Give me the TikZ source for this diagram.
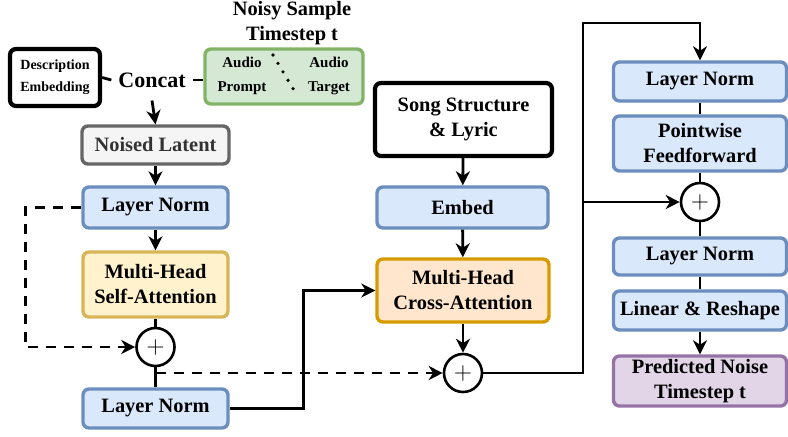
\documentclass[tikz,border=0pt]{standalone}
\usepackage{fontspec}
\setmainfont{Liberation Serif}
\usepackage{xcolor}
\usetikzlibrary{arrows.meta, positioning, calc}

\definecolor{blueF}{HTML}{DAE8FC}
\definecolor{blueD}{HTML}{6C8EBF}
\definecolor{greenF}{HTML}{D5E8D4}
\definecolor{greenD}{HTML}{82B366}
\definecolor{grayF}{HTML}{F5F5F5}
\definecolor{grayD}{HTML}{666666}
\definecolor{grayT}{HTML}{333333}
\definecolor{yelF}{HTML}{FFF2CC}
\definecolor{yelD}{HTML}{D6B656}
\definecolor{orgF}{HTML}{FFE6CC}
\definecolor{orgD}{HTML}{D79B00}
\definecolor{purF}{HTML}{E1D5E7}
\definecolor{purD}{HTML}{9673A6}

\tikzset{
  txt/.style={font=\fontsize{10.2}{12.5}\selectfont\bfseries, align=center},
  blk/.style={txt, draw, line width=1.7pt, rounded corners=3pt, inner sep=0pt},
  norm/.style={blk, draw=blueD, fill=blueF},
  plus/.style={circle, draw, line width=1.3pt, fill=white, inner sep=0pt,
    minimum size=19pt, font=\fontsize{13}{13}\selectfont},
  link/.style={line width=1.4pt},
  arr/.style={link, -{Stealth[length=7pt,width=7pt,inset=2.2pt]}},
  skip/.style={arr, dash pattern=on 5pt off 4pt}
}

\begin{document}
\begin{tikzpicture}[x=0.5pt,y=-0.5pt]

\useasboundingbox (0,0) rectangle (788,436);

% ------------------------
% Inputs: description + noisy sample
% ------------------------
\node[txt] (title) at (292,23) {Noisy Sample\\Timestep t};

\node[blk, draw=black, line width=2.1pt, minimum width=45pt, minimum height=28.5pt,
  font=\fontsize{7}{11}\selectfont\bfseries] (desc) at (55,77.5)
  {Description\\Embedding};

\node[txt, font=\fontsize{11}{12}\selectfont\bfseries] (concat) at (152,80) {Concat};

\node[blk, draw=greenD, fill=greenF, minimum width=79pt, minimum height=27.5pt]
  (noisy) at (284,76.5) {};
\node[txt, font=\fontsize{7.5}{12}\selectfont\bfseries] (prompt) at (242,76) {Audio\\Prompt};
\node[txt, font=\fontsize{7.5}{12}\selectfont\bfseries] (target) at (329,76) {Audio\\Target};

% divider between prompt and target
\draw[line width=1.8pt, line cap=round, dash pattern=on 0pt off 4.9pt]
  (273,55) -- (298,97);

\draw[link] (desc.east) -- (concat.west);
\draw[link] (concat.east) -- (concat.east -| noisy.west);

% ------------------------
% Left column: self-attention block
% ------------------------
\node[blk, draw=grayD, fill=grayF, text=grayT, minimum width=73.5pt, minimum height=19pt]
  (noised) at (155.5,145) {Noised Latent};

\node[norm, minimum width=72.5pt, minimum height=20.5pt] (ln1) at (155.5,207.5) {Layer Norm};

\node[blk, draw=yelD, fill=yelF, minimum width=72.5pt, minimum height=32.5pt]
  (mhsa) at (155.5,284.5) {Multi-Head\\Self-Attention};

\node[plus] (add1) at (155.5,347) {$+$};

\node[norm, minimum width=72.5pt, minimum height=19.5pt] (ln2) at (155.5,408.5) {Layer Norm};

\coordinate (br1) at (155.5,373);

\draw[arr] (concat.south) ++(0,6) -- (noised.north);
\draw[arr] (noised) -- (ln1);
\draw[arr] (ln1) -- (mhsa);
\draw[link] (mhsa) -- (add1);
\draw[link] (add1) -- (ln2);
\draw[skip] (ln1.west) -- ++(-56,0) |- (add1.west);

% ------------------------
% Middle column: cross-attention block
% ------------------------
\node[blk, draw=black, line width=2.1pt, fill=white, minimum width=88.5pt, minimum height=36.5pt]
  (song) at (463.5,119.5) {Song Structure\\\& Lyric};

\node[norm, minimum width=85.5pt, minimum height=20.5pt] (embed) at (462.5,207.5) {Embed};

\node[blk, draw=orgD, fill=orgF, minimum width=86pt, minimum height=31.5pt]
  (mhca) at (463,290.5) {Multi-Head\\Cross-Attention};

\node[plus] (add2) at (463,373) {$+$};

\draw[arr] (song) -- (embed);
\draw[arr] (embed) -- (mhca);
\draw[arr] (mhca) -- (add2);
\draw[arr] (ln2.east) -- ++(74,0) |- (mhca.west);
\draw[skip] (br1) -- (add2.west);

% ------------------------
% Right column: feedforward + output
% ------------------------
\node[norm, minimum width=86.5pt, minimum height=19.5pt] (ln3) at (700,81.5) {Layer Norm};
\node[norm, minimum width=86.5pt, minimum height=27.5pt] (ff) at (700,143.5) {Pointwise\\Feedforward};
\node[plus] (add3) at (700,202) {$+$};
\node[norm, minimum width=86.5pt, minimum height=18.5pt] (ln4) at (700,256.5) {Layer Norm};
\node[norm, minimum width=86.5pt, minimum height=19.5pt] (lin) at (700,310.5) {Linear \& Reshape};
\node[blk, draw=purD, fill=purF, minimum width=86.5pt, minimum height=25pt]
  (pred) at (700,381) {Predicted Noise\\Timestep t};

\coordinate (jr) at (583,23);

\draw[arr] (add2.east) -| (jr) -| (ln3.north);
\draw[arr] (jr |- add3) -- (add3.west);
\foreach \a/\b in {ln3/ff, ff/add3, add3/ln4, ln4/lin} {
  \draw[link] (\a) -- (\b);
}
\draw[arr] (lin) -- (pred);

\end{tikzpicture}
\end{document}
